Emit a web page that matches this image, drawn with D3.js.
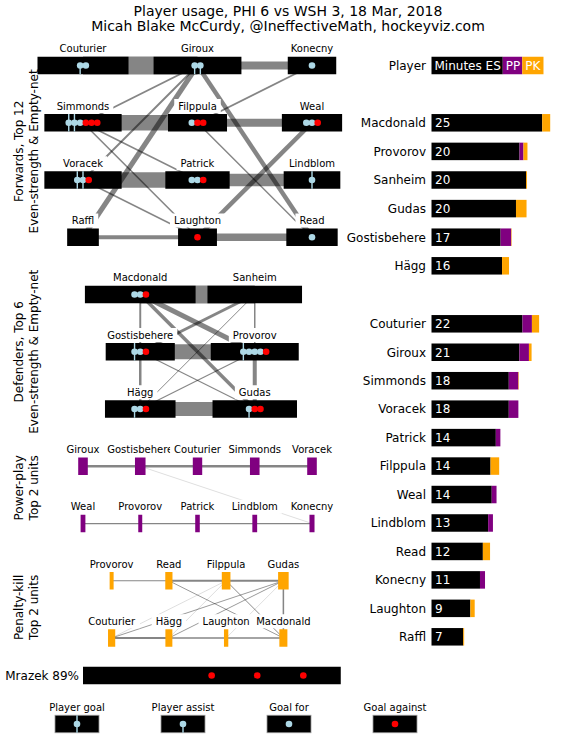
<!DOCTYPE html>
<html><head><meta charset="utf-8">
<script src="https://cdn.jsdelivr.net/npm/d3@7"></script>
<style>body{margin:0;background:#fff} text{font-family:"DejaVu Sans",sans-serif;fill:#000}</style>
</head><body><svg id="c" width="565" height="740"></svg>
<script>
// ---------- data ----------
const titleLines = ["Player usage, PHI 6 vs WSH 3, 18 Mar, 2018", "Micah Blake McCurdy, @IneffectiveMath, hockeyviz.com"];
const players = ["Macdonald","Provorov","Sanheim","Gudas","Gostisbehere","Hägg","Couturier","Giroux","Simmonds","Voracek","Patrick","Filppula","Weal","Lindblom","Read","Konecny","Laughton","Raffl"];
const positions = ["D","D","D","D","D","D","F","F","F","F","F","F","F","F","F","F","F","F"];
const esMin = [23.06,18.33,19.7,17.6,14.4,14.7,18.96,18.3,16.1,16.1,13.4,12.3,12.55,11.8,10.7,10.1,8.1,6.6];
const ppMin = [0,0.83,0,0,2.2,0,1.96,2.0,2.0,2.0,0.95,0,1.0,1.0,0,1.05,0,0];
const pkMin = [1.67,0.83,0.2,2.2,0.1,1.45,1.5,0.55,0.1,0,0,1.8,0,0,1.5,0,0.9,0.2];

const fwdRows = [["Couturier","Giroux","Konecny"],["Simmonds","Filppula","Weal"],["Voracek","Patrick","Lindblom"],["Raffl","Laughton","Read"]];
const defRows = [["Macdonald","Sanheim"],["Gostisbehere","Provorov"],["Hägg","Gudas"]];
const ppUnits = [["Giroux","Gostisbehere","Couturier","Simmonds","Voracek"],["Weal","Provorov","Patrick","Lindblom","Konecny"]];
const pkUnits = [["Provorov","Read","Filppula","Gudas"],["Couturier","Hägg","Laughton","Macdonald"]];

// shared minutes [a, b, minutes]
const fwdEdges = [["Couturier","Giroux",13.0],["Giroux","Konecny",5.8],["Simmonds","Filppula",11.2],["Filppula","Weal",5.8],
  ["Voracek","Patrick",11.2],["Patrick","Lindblom",8.9],["Raffl","Laughton",2.9],["Laughton","Read",5.3],
  ["Giroux","Simmonds",1.4],["Giroux","Voracek",1.4],["Giroux","Raffl",3.6],["Giroux","Read",3.2],
  ["Konecny","Filppula",1.4],["Filppula","Read",1.1],["Weal","Laughton",3.2],["Simmonds","Patrick",1.1],
  ["Simmonds","Laughton",1.1],["Voracek","Laughton",1.1]];
const defEdges = [["Macdonald","Sanheim",13.0],["Gostisbehere","Provorov",10.8],["Hägg","Gudas",10.0],
  ["Macdonald","Gostisbehere",1.4],["Sanheim","Provorov",1.1],["Provorov","Gudas",2.9],["Gostisbehere","Hägg",1.8],
  ["Macdonald","Provorov",3.6],["Macdonald","Gudas",2.5],["Sanheim","Gostisbehere",2.2],["Sanheim","Hägg",0.7],
  ["Gostisbehere","Gudas",0.9],["Provorov","Hägg",0.9]];
const ppEdges = [["Giroux","Gostisbehere",1.9],["Gostisbehere","Couturier",1.9],["Couturier","Simmonds",1.9],["Simmonds","Voracek",1.9],
  ["Weal","Provorov",0.9],["Provorov","Patrick",0.9],["Patrick","Lindblom",0.9],["Lindblom","Konecny",0.9],["Gostisbehere","Konecny",0.2]];
const pkEdges = [["Provorov","Read",0.8],["Read","Filppula",1.4],["Filppula","Gudas",1.6],
  ["Couturier","Hägg",1.3],["Hägg","Laughton",1.0],["Laughton","Macdonald",1.0],["Gudas","Macdonald",1.1],
  ["Read","Macdonald",0.6],["Filppula","Macdonald",0.7],["Gudas","Couturier",0.6],["Gudas","Hägg",0.6],
  ["Gudas","Laughton",0.2],["Filppula","Couturier",0.2],["Filppula","Hägg",0.2]];

// on-ice events at even strength: G player goal, A player assist, F goal for, X goal against
const eventPlayers = ["Couturier","Giroux","Konecny","Simmonds","Filppula","Weal","Voracek","Patrick","Lindblom","Laughton","Read",
  "Macdonald","Gostisbehere","Provorov","Hägg","Gudas"];
const eventCodes = ["AF","AA","F","GGFXXX","FXX","FFX","GGX","FFX","G","X","F","FFX","GFX","GFFFX","AFX","AXX"];

const goalieName = "Mrazek 89%";
const goalieES = 53.7;
const goalieAgainst = [26.8, 36.3, 45.9];

const sideLabels = [["Forwards, Top 12","Even-strength & Empty-net"],["Defenders, Top 6","Even-strength & Empty-net"],["Power-play","Top 2 units"],["Penalty-kill","Top 2 units"]];
const headerParts = ["Minutes ES","PP","PK"];
const legendLabels = ["Player goal","Player assist","Goal for","Goal against"];
const legendCodes = ["G","A","F","X"];

// ---------- drawing ----------
const svg = d3.select("#c");
const xMin = d3.scaleLinear().domain([0,25]).range([0,120]);
const colX = d3.scaleLinear().domain([-2,2]).range([83,312]);
const rowY = d3.scaleLinear().domain([0,10]).range([65.5,638]);
const BH = 17.5;
const edgeW = m => m*100/72;
const idx = n => players.indexOf(n);
const COL = {es:"#000", pp:"#800080", pk:"#FFA500"};
const sideShift = [0,0,-7,-2];

// title
svg.selectAll(".title").data(titleLines).join("text")
  .attr("x",288).attr("y",(d,i)=>16+i*14.5).attr("text-anchor","middle")
  .attr("font-size",14).attr("fill","#222").text(d=>d);

const sections = [
  {rows:fwdRows, row0:0, step:2, kind:"es", edges:fwdEdges},
  {rows:defRows, row0:4, step:2, kind:"es", edges:defEdges},
  {rows:ppUnits, row0:7, step:1, kind:"pp", edges:ppEdges},
  {rows:pkUnits, row0:9, step:1, kind:"pk", edges:pkEdges}];

const gEdges = svg.append("g"), gBoxes = svg.append("g"), gLabels = svg.append("g"), gMarks = svg.append("g");

sections.forEach((s,si)=>{
  const nodes = {};
  s.rows.forEach((row,ri)=>{
    row.forEach((name,i)=>{
      const slot = (i-(row.length-1)/2)*s.step;
      const mins = s.kind==="es"?esMin[idx(name)]:s.kind==="pp"?ppMin[idx(name)]:pkMin[idx(name)];
      nodes[name] = {name, cx:colX(slot), cy:rowY(s.row0+ri), w:xMin(mins)};
    });
  });
  const nl = Object.values(nodes);
  gEdges.selectAll(null).data(s.edges).join("line")
    .attr("x1",d=>nodes[d[0]].cx).attr("y1",d=>nodes[d[0]].cy)
    .attr("x2",d=>nodes[d[1]].cx).attr("y2",d=>nodes[d[1]].cy)
    .attr("stroke","#000").attr("stroke-opacity",0.48).attr("stroke-width",d=>edgeW(d[2]));
  gBoxes.selectAll(null).data(nl).join("rect")
    .attr("x",d=>d.cx-d.w/2).attr("y",d=>d.cy-BH/2).attr("width",d=>d.w).attr("height",BH)
    .attr("fill",COL[s.kind]);
  nl.forEach(d=>{
    const g = gLabels.append("g");
    const r = g.append("rect").attr("fill","#fff");
    const t = g.append("text").attr("x",d.cx).attr("y",d.cy-BH/2-4.5).attr("text-anchor","middle").attr("font-size",10).text(d.name);
    const b = t.node().getBBox();
    r.attr("x",b.x-4).attr("y",b.y-1.5).attr("width",b.width+8).attr("height",b.height+3);
  });
  if (s.kind==="es") {
    nl.forEach(d=>{
      const k = eventPlayers.indexOf(d.name);
      if (k<0) return;
      drawEvents(gMarks, d.cx, d.cy, eventCodes[k].split(""));
    });
  }
  // side label
  const cy = (rowY(s.row0)+rowY(s.row0+s.rows.length-1))/2 + sideShift[si];
  sideLabels[si].forEach((txt,li)=>{
    svg.append("text").attr("transform",`translate(${23+li*14.5},${cy}) rotate(-90)`)
      .attr("text-anchor","middle").attr("font-size",12).text(txt);
  });
});

function drawEvents(g, cx, cy, codes) {
  const sp = 5.7, n = codes.length;
  codes.forEach((c,i)=>{
    const x = cx + (i-(n-1)/2)*sp;
    if (c==="G") g.append("line").attr("x1",x).attr("x2",x).attr("y1",cy-BH/2).attr("y2",cy+BH/2).attr("stroke","#ADD8E6").attr("stroke-width",1.4);
    if (c==="A") g.append("line").attr("x1",x).attr("x2",x).attr("y1",cy).attr("y2",cy+BH/2).attr("stroke","#ADD8E6").attr("stroke-width",1.4);
  });
  codes.forEach((c,i)=>{
    const x = cx + (i-(n-1)/2)*sp;
    g.append("circle").attr("cx",x).attr("cy",cy).attr("r",3.3).attr("fill",c==="X"?"#FF0000":"#ADD8E6");
  });
}

// goalie
const gy = 675.5, gx0 = 83;
svg.append("rect").attr("x",gx0).attr("y",gy-BH/2).attr("width",xMin(goalieES)).attr("height",BH).attr("fill","#000");
svg.selectAll(null).data(goalieAgainst).join("circle").attr("cx",d=>gx0+xMin(d)).attr("cy",gy).attr("r",3.3).attr("fill","#FF0000");
svg.append("text").attr("x",79).attr("y",gy+4.3).attr("text-anchor","end").attr("font-size",12).text(goalieName);

// right bars
const barX0 = 431.5;
const defIdx = players.map((p,i)=>i).filter(i=>positions[i]==="D");
const fwdIdx = players.map((p,i)=>i).filter(i=>positions[i]==="F");
const yD = d3.scaleLinear().domain([0,5]).range([122.8,265.8]);
const yF = d3.scaleLinear().domain([0,11]).range([323.8,636.8]);
const bars = [...defIdx.map((pi,k)=>({pi,y:yD(k)})), ...fwdIdx.map((pi,k)=>({pi,y:yF(k)}))];
const gb = svg.append("g");
bars.forEach(b=>{
  const e = xMin(esMin[b.pi]), p = xMin(ppMin[b.pi]), k = xMin(pkMin[b.pi]);
  gb.append("rect").attr("x",barX0).attr("y",b.y-BH/2).attr("width",e).attr("height",BH).attr("fill","#000");
  gb.append("rect").attr("x",barX0+e).attr("y",b.y-BH/2).attr("width",p).attr("height",BH).attr("fill",COL.pp);
  gb.append("rect").attr("x",barX0+e+p).attr("y",b.y-BH/2).attr("width",k).attr("height",BH).attr("fill",COL.pk);
  gb.append("text").attr("x",barX0+3.5).attr("y",b.y+4.3).attr("font-size",12).style("fill","#fff")
    .text(Math.round(esMin[b.pi]+ppMin[b.pi]+pkMin[b.pi]));
  gb.append("text").attr("x",426).attr("y",b.y+4.3).attr("text-anchor","end").attr("font-size",12).text(players[b.pi]);
});
// header
const hy = 65.5;
svg.append("text").attr("x",426).attr("y",hy+4.3).attr("text-anchor","end").attr("font-size",12).text("Player");
let hx = barX0;
const hcols = [COL.es, COL.pp, COL.pk];
headerParts.forEach((t,i)=>{
  const r = svg.append("rect").attr("y",hy-BH/2).attr("height",BH).attr("fill",hcols[i]);
  const tx = svg.append("text").attr("x",hx+3).attr("y",hy+4.3).attr("font-size",12).style("fill","#fff").text(t);
  const w = tx.node().getBBox().width + 5;
  r.attr("x",hx).attr("width",w);
  hx += w;
});

// legend
const lx = d3.scalePoint().domain(legendLabels).range([77,395]);
legendLabels.forEach((lab,i)=>{
  const cx = lx(lab), cy = 724;
  svg.append("text").attr("x",cx).attr("y",710.5).attr("text-anchor","middle").attr("font-size",10).text(lab);
  svg.append("rect").attr("x",cx-22).attr("y",cy-BH/2).attr("width",44).attr("height",BH).attr("fill","#000").attr("stroke","#999").attr("stroke-width",0.8);
  drawEvents(svg, cx, cy, [legendCodes[i]]);
});
</script></body></html>
